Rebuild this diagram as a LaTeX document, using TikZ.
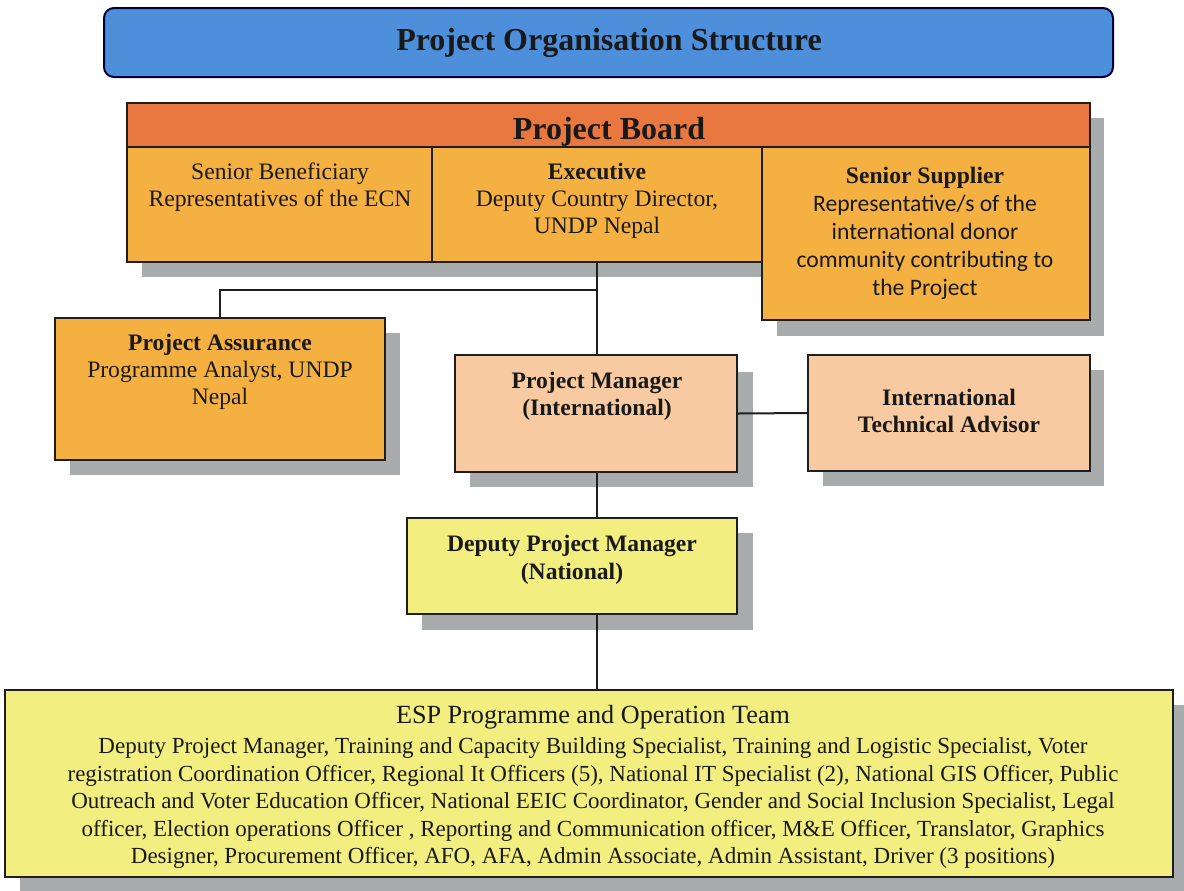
\documentclass[tikz,border=0pt]{standalone}
\usepackage{fontspec}
\setmainfont{Liberation Serif}
\newfontfamily\calfont{Carlito}
\usetikzlibrary{fit}
\definecolor{titleblue}{RGB}{78,143,219}
\definecolor{boardred}{RGB}{233,120,64}
\definecolor{boxorange}{RGB}{245,176,66}
\definecolor{boxpeach}{RGB}{247,202,162}
\definecolor{boxyellow}{RGB}{242,238,128}
\definecolor{shadowgray}{RGB}{168,172,172}
\definecolor{edge}{RGB}{30,30,30}
\tikzset{
  box/.style={draw=edge, line width=1pt, inner sep=0pt},
  shade/.style={fill=shadowgray},
  conn/.style={draw=edge, line width=1pt},
  txt/.style={align=center, inner sep=0pt, text=black!90, font=\fontsize{11.8}{13.6}\selectfont},
  bigtxt/.style={inner sep=0pt, text=black!90, font=\fontsize{16}{18}\selectfont\bfseries}
}
\begin{document}
\begin{tikzpicture}[x=0.5pt,y=-0.5pt]
\useasboundingbox (0,0) rectangle (1184,890);
% shadows
\fill[shade] (142,118) rectangle (1104,162);
\fill[shade] (142,162) rectangle (777,277);
\fill[shade] (777,162) rectangle (1104,336);
\fill[shade] (70,333) rectangle (400,475);
\fill[shade] (470,372) rectangle (753,487);
\fill[shade] (823,370) rectangle (1104,486);
\fill[shade] (422,533) rectangle (753,630);
\fill[shade] (20,705) rectangle (1190,895);
% title
\node[box, rounded corners=5pt, fill=titleblue, draw=black!80!blue, fit={(104,8)(1113,77)}] (title) {};
\node[bigtxt] at (609,43) {Project Organisation Structure};
% board
\node[box, fill=boardred, fit={(127,103)(1090,147)}] (board) {};
\node[bigtxt] at (609,132) {Project Board};
\node[box, fill=boxorange, fit={(127,147)(432,262)}] (sb) {};
\node[box, fill=boxorange, fit={(432,147)(762,262)}] (exec) {};
\node[box, fill=boxorange, fit={(762,147)(1090,320)}] (ss) {};
\node[txt] at (280,187) {Senior Beneficiary\\Representatives of the ECN};
\node[txt] at (597,201) {\textbf{Executive}\\Deputy Country Director,\\UNDP Nepal};
\node[txt, font=\fontsize{11.8}{14}\selectfont] at (925,233) {\textbf{Senior Supplier}\\{\calfont Representative/s of the}\\{\calfont international donor}\\{\calfont community contributing to}\\{\calfont the Project}};
% assurance
\node[box, fill=boxorange, fit={(55,318)(385,460)}] (pa) {};
\node[txt] at (220,372) {\textbf{Project Assurance}\\Programme Analyst, UNDP\\Nepal};
% manager
\node[box, fill=boxpeach, fit={(455,355)(737,472)}] (pm) {};
\node[txt, font=\fontsize{11.8}{13.6}\selectfont\bfseries] at (597,396) {Project Manager\\(International)};
\node[box, fill=boxpeach, fit={(808,355)(1090,471)}] (ita) {};
\node[txt, font=\fontsize{11.8}{13.8}\selectfont\bfseries] at (949,411) {International\\Technical Advisor};
% deputy
\node[box, fill=boxyellow, fit={(407,518)(737,614)}] (dpm) {};
\node[txt, font=\fontsize{11.8}{13.8}\selectfont\bfseries] at (572,560) {Deputy Project Manager\\(National)};
% ESP
\node[box, fill=boxyellow, fit={(5,690)(1173,877)}] (esp) {};
\node[txt, font=\fontsize{11.5}{13.75}\selectfont] at (593,787) {{\fontsize{13.1}{13.75}\selectfont ESP Programme and Operation Team}\\[1.5pt]
Deputy Project Manager, Training and Capacity Building Specialist, Training and Logistic Specialist, Voter\\
registration Coordination Officer, Regional It Officers (5), National IT Specialist (2), National GIS Officer, Public\\
Outreach and Voter Education Officer, National EEIC Coordinator, Gender and Social Inclusion Specialist, Legal\\
officer, Election operations Officer , Reporting and Communication officer, M\&E Officer, Translator, Graphics\\
Designer, Procurement Officer, AFO, AFA, Admin Associate, Admin Assistant, Driver (3 positions)};
% connectors
\coordinate (j) at (597,290);
\draw[conn] (exec.south) -- (j) -| (pa.north);
\draw[conn] (j) -- (j |- pm.north);
\draw[conn] (pm.south -| j) -- (dpm.north -| j);
\draw[conn] (dpm.south -| j) -- (esp.north -| j);
\draw[conn] (pm.east) -- (ita.west);
\end{tikzpicture}
\end{document}
